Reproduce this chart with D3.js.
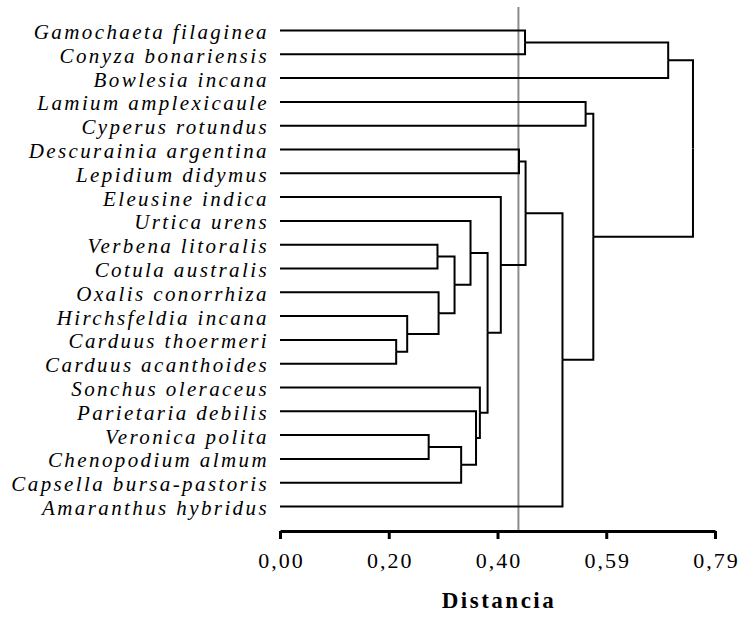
<!DOCTYPE html>
<html>
<head>
<meta charset="utf-8">
<script src="https://cdn.jsdelivr.net/npm/d3@7"></script>
<style>
  body { margin: 0; background: #fff; }
  svg { display: block; }
  .leaf-label { font-family: "Liberation Serif", "Times New Roman", serif; font-style: italic; font-size: 21px; letter-spacing: 2.4px; }
  .axis text { font-family: "Liberation Serif", "Times New Roman", serif; font-size: 22px; letter-spacing: 2px; fill: #000; }
  .axis-title { font-family: "Liberation Serif", "Times New Roman", serif; font-weight: bold; font-size: 23px; letter-spacing: 2.5px; }
</style>
</head>
<body>
<svg id="chart" width="741" height="619"></svg>
<script>
// leaves, top to bottom
const species = [
  "Gamochaeta filaginea", "Conyza bonariensis", "Bowlesia incana",
  "Lamium amplexicaule", "Cyperus rotundus", "Descurainia argentina",
  "Lepidium didymus", "Eleusine indica", "Urtica urens",
  "Verbena litoralis", "Cotula australis", "Oxalis conorrhiza",
  "Hirchsfeldia incana", "Carduus thoermeri", "Carduus acanthoides",
  "Sonchus oleraceus", "Parietaria debilis", "Veronica polita",
  "Chenopodium almum", "Capsella bursa-pastoris", "Amaranthus hybridus"
]

// merge steps: [left, right, distance]; a string is a leaf, a number is an earlier merge (1-based)
const merges = [
  ["Carduus thoermeri", "Carduus acanthoides", 0.211], // 1
  ["Hirchsfeldia incana", 1, 0.231],                    // 2
  ["Veronica polita", "Chenopodium almum", 0.270],      // 3
  ["Verbena litoralis", "Cotula australis", 0.286],     // 4
  ["Oxalis conorrhiza", 2, 0.288],                      // 5
  [4, 5, 0.317],                                        // 6
  [3, "Capsella bursa-pastoris", 0.329],                // 7
  ["Urtica urens", 6, 0.346],                           // 8
  ["Parietaria debilis", 7, 0.356],                     // 9
  ["Sonchus oleraceus", 9, 0.363],                      // 10
  [8, 10, 0.377],                                       // 11
  ["Eleusine indica", 11, 0.401],                       // 12
  ["Descurainia argentina", "Lepidium didymus", 0.434], // 13
  ["Gamochaeta filaginea", "Conyza bonariensis", 0.445],// 14
  [13, 12, 0.446],                                      // 15
  [15, "Amaranthus hybridus", 0.513],                   // 16
  ["Lamium amplexicaule", "Cyperus rotundus", 0.555],   // 17
  [17, 16, 0.569],                                      // 18
  [14, "Bowlesia incana", 0.705],                       // 19
  [19, 18, 0.750]                                       // 20
]

const cutDistance = 0.433
const tickValues = [0, 0.1975, 0.395, 0.5925, 0.79]
const tickLabels = ["0,00", "0,20", "0,40", "0,59", "0,79"]

const svg = d3.select("#chart")
const axisY = 531

const x = d3.scaleLinear().domain([0, 0.79]).range([280, 715])
const y = d3.scalePoint().domain(species).range([30.5, 506.5])

// build tree nodes from merges
const nodes = merges.map(m => ({ kids: [m[0], m[1]], height: m[2] }))
function resolve(k) {
  return typeof k === "string" ? { name: k, height: 0 } : nodes[k - 1]
}
nodes.forEach(n => { n.children = n.kids.map(resolve) })
const root = d3.hierarchy(nodes[nodes.length - 1])

// y of a node = midpoint of its children
root.eachAfter(d => {
  d.py = d.children ? (d.children[0].py + d.children[1].py) / 2 : y(d.data.name)
  d.px = x(d.data.height)
})

// cut line
svg.append("line")
  .attr("x1", x(cutDistance)).attr("x2", x(cutDistance))
  .attr("y1", 7).attr("y2", axisY)
  .attr("stroke", "#8c8c8c").attr("stroke-width", 2)

// elbows
const g = svg.append("g")
  .attr("fill", "none").attr("stroke", "#000").attr("stroke-width", 2)

root.descendants().filter(d => d.children).forEach(d => {
  d.children.forEach(c => {
    g.append("path").attr("d", `M${c.px},${c.py}H${d.px}V${d.py}`)
  })
})

// labels
svg.append("g").selectAll("text")
  .data(root.leaves())
  .join("text")
  .attr("class", "leaf-label")
  .attr("x", 269)
  .attr("y", d => d.py + 8.5)
  .attr("text-anchor", "end")
  .text(d => d.data.name)

// axis
const axis = svg.append("g")
  .attr("class", "axis")
  .attr("transform", `translate(0,${axisY})`)
  .call(d3.axisBottom(x)
    .tickValues(tickValues)
    .tickFormat((d, i) => tickLabels[i])
    .tickSize(8)
    .tickSizeOuter(0)
    .tickPadding(13))

axis.select(".domain").attr("stroke-width", 3)
axis.selectAll(".tick line").attr("stroke-width", 3)
axis.selectAll(".tick text").attr("dx", 1)

svg.append("text")
  .attr("class", "axis-title")
  .attr("x", (x.range()[0] + x.range()[1]) / 2 + 1.5)
  .attr("y", 608)
  .attr("text-anchor", "middle")
  .text("Distancia")
</script>
</body>
</html>
